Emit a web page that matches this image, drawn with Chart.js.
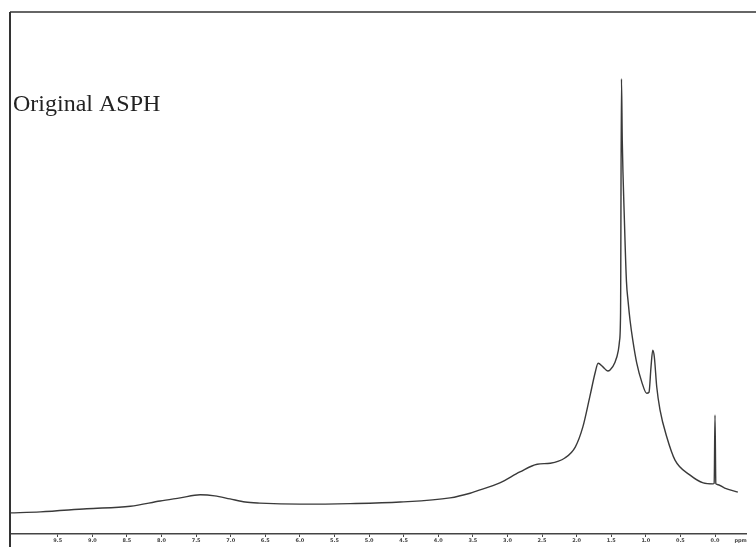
<!DOCTYPE html>
<html>
<head>
<meta charset="utf-8">
<script src="https://cdn.jsdelivr.net/npm/chart.js@4/dist/chart.umd.min.js"></script>
<style>
html,body{margin:0;padding:0;background:#fff;}
#wrap{width:756px;height:547px;position:relative;}
</style>
</head>
<body>
<div id="wrap"><canvas id="c" width="756" height="547"></canvas></div>
<script>
// Chemical shift (ppm) and relative intensity
const shiftPpm = [10.19, 9.75, 9.08, 8.45, 8.02, 7.73, 7.44, 7.23, 7.01, 6.79, 6.58, 6.00, 5.27, 4.55, 3.83, 3.54, 3.45, 3.11, 2.82, 2.57, 2.38, 2.17, 2.02, 1.91, 1.81, 1.73, 1.69, 1.62, 1.55, 1.517, 1.445, 1.397, 1.38, 1.365, 1.352, 1.34, 1.31, 1.28, 1.255, 1.228, 1.189, 1.131, 1.059, 0.987, 0.954, 0.925, 0.900, 0.877, 0.842, 0.795, 0.698, 0.578, 0.36, 0.17, 0.03, 0.012, 0.0, -0.012, -0.03, -0.14, -0.33];
const intensity = [3.3, 3.5, 4.1, 4.6, 5.6, 6.2, 6.8, 6.6, 6.0, 5.4, 5.2, 5.0, 5.1, 5.4, 6.2, 7.1, 7.5, 9.1, 11.2, 12.7, 12.9, 13.9, 16.0, 19.9, 25.7, 30.5, 32.2, 31.5, 30.7, 30.9, 32.4, 34.7, 36.5, 42.0, 87.1, 75.0, 60.0, 48.0, 44.0, 40.5, 36.7, 32.2, 28.6, 26.4, 26.6, 31.5, 34.7, 33.4, 27.6, 23.2, 18.0, 13.5, 10.6, 9.1, 8.9, 9.0, 22.2, 9.0, 8.8, 8.1, 7.3];
// Axis ticks
const tickValues = [9.5, 9.0, 8.5, 8.0, 7.5, 7.0, 6.5, 6.0, 5.5, 5.0, 4.5, 4.0, 3.5, 3.0, 2.5, 2.0, 1.5, 1.0, 0.5, 0.0];
const tickLabels = ['9.5', '9.0', '8.5', '8.0', '7.5', '7.0', '6.5', '6.0', '5.5', '5.0', '4.5', '4.0', '3.5', '3.0', '2.5', '2.0', '1.5', '1.0', '0.5', '0.0'];
const unitValue = -0.37;
const unitLabel = 'ppm';
const sampleLabel = 'Original ASPH';

const points = shiftPpm.map((x, i) => ({x: x, y: intensity[i]}));

const framePlugin = {
  id: 'frame',
  afterDraw(chart) {
    const {ctx, chartArea} = chart;
    ctx.save();
    ctx.strokeStyle = '#333';
    ctx.lineWidth = 2;
    ctx.beginPath();
    ctx.moveTo(chartArea.left, chartArea.top);
    ctx.lineTo(chartArea.left, chart.height);
    ctx.stroke();
    ctx.lineWidth = 1.5;
    ctx.beginPath();
    ctx.moveTo(chartArea.left, chartArea.top);
    ctx.lineTo(chart.width, chartArea.top);
    ctx.stroke();
    ctx.fillStyle = '#222';
    ctx.font = '24px "Liberation Serif", "DejaVu Serif", serif';
    ctx.textBaseline = 'alphabetic';
    ctx.textAlign = 'left';
    ctx.fillText(sampleLabel, chartArea.left + 3, 111);
    ctx.restore();
  }
};

new Chart(document.getElementById('c'), {
  type: 'line',
  data: {
    datasets: [{
      data: points,
      borderColor: '#3a3a3a',
      borderWidth: 1.4,
      pointRadius: 0,
      fill: false,
      cubicInterpolationMode: 'monotone'
    }]
  },
  options: {
    responsive: false,
    animation: false,
    layout: {padding: {left: 10, right: 10, top: 12, bottom: 0}},
    plugins: {legend: {display: false}, tooltip: {enabled: false}, title: {display: false}},
    scales: {
      x: {
        type: 'linear',
        reverse: true,
        min: -0.448,
        max: 10.19,
        afterBuildTicks(scale) {
          scale.ticks = tickValues.map(v => ({value: v})).concat([{value: unitValue}]);
        },
        afterFit(scale) { scale.height = 13; },
        border: {display: true, color: '#444', width: 1.5},
        grid: {
          drawOnChartArea: false,
          drawTicks: true,
          tickLength: 3,
          color: (ctx) => (ctx.tick && ctx.tick.value === unitValue) ? 'rgba(0,0,0,0)' : '#444'
        },
        ticks: {
          autoSkip: false,
          maxRotation: 0,
          padding: 1,
          color: '#444',
          font: {size: 5, weight: 'bold', family: 'DejaVu Sans'},
          callback: (v) => {
            if (v === unitValue) return unitLabel;
            const i = tickValues.indexOf(v);
            return i >= 0 ? tickLabels[i] : '';
          }
        }
      },
      y: {
        display: false,
        min: -0.77,
        max: 100
      }
    }
  },
  plugins: [framePlugin]
});
</script>
</body>
</html>
